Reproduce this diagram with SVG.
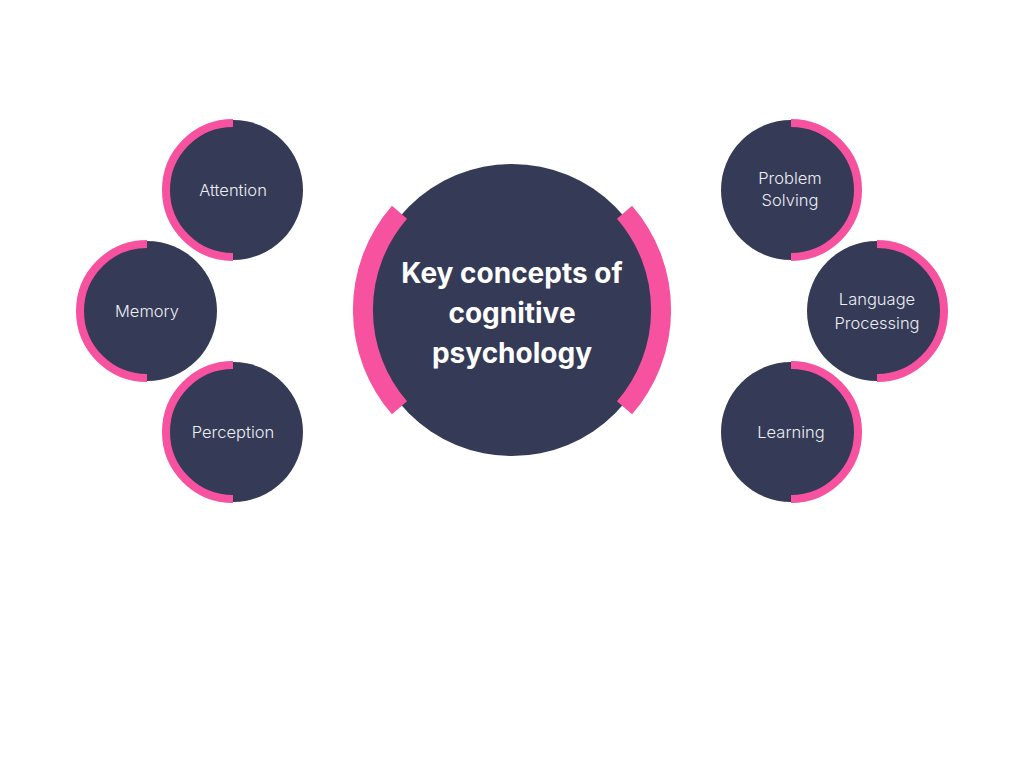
<svg xmlns="http://www.w3.org/2000/svg" width="1024" height="768" viewBox="0 0 1024 768">
  <style>
    .disc { fill: #353a56; }
    .ring { fill: none; stroke: #f652a0; }
    .small { stroke-width: 8; }
    .big { stroke-width: 20; }
    .lbl { font-family: Inter, "Noto Sans", "Liberation Sans", sans-serif; font-size: 16.5px; font-weight: 300; fill: #eceef4; text-anchor: middle; dominant-baseline: central; }
    .title { font-family: Inter, "Noto Sans", "Liberation Sans", sans-serif; font-size: 28px; font-weight: 700; fill: #ffffff; text-anchor: middle; }
  </style>
  <rect width="1024" height="768" fill="#ffffff"/>
  <g id="connectors"></g>

  <g id="center">
    <circle class="disc" cx="512" cy="310" r="146"/>
    <path class="ring big" d="M 399.5 212.2 A 149 149 0 0 0 399.5 407.8"/>
    <path class="ring big" d="M 624.5 212.2 A 149 149 0 0 1 624.5 407.8"/>
    <text class="title" x="512" y="283">Key concepts of</text>
    <text class="title" x="512" y="323">cognitive</text>
    <text class="title" x="512" y="363">psychology</text>
  </g>

  <g id="attention">
    <circle class="disc" cx="233" cy="190" r="70"/>
    <path class="ring small" d="M 233 123 A 67 67 0 0 0 233 257"/>
    <text class="lbl" x="233" y="190">Attention</text>
  </g>
  <g id="memory">
    <circle class="disc" cx="147" cy="311" r="70"/>
    <path class="ring small" d="M 147 244 A 67 67 0 0 0 147 378"/>
    <text class="lbl" x="147" y="311">Memory</text>
  </g>
  <g id="perception">
    <circle class="disc" cx="233" cy="432" r="70"/>
    <path class="ring small" d="M 233 365 A 67 67 0 0 0 233 499"/>
    <text class="lbl" x="233" y="432">Perception</text>
  </g>

  <g id="problem-solving">
    <circle class="disc" cx="791" cy="190" r="70"/>
    <path class="ring small" d="M 791 123 A 67 67 0 0 1 791 257"/>
    <text class="lbl" x="790" y="178">Problem</text>
    <text class="lbl" x="790" y="200">Solving</text>
  </g>
  <g id="language-processing">
    <circle class="disc" cx="877" cy="311" r="70"/>
    <path class="ring small" d="M 877 244 A 67 67 0 0 1 877 378"/>
    <text class="lbl" x="877" y="299">Language</text>
    <text class="lbl" x="877" y="323">Processing</text>
  </g>
  <g id="learning">
    <circle class="disc" cx="791" cy="432" r="70"/>
    <path class="ring small" d="M 791 365 A 67 67 0 0 1 791 499"/>
    <text class="lbl" x="791" y="432">Learning</text>
  </g>
</svg>
